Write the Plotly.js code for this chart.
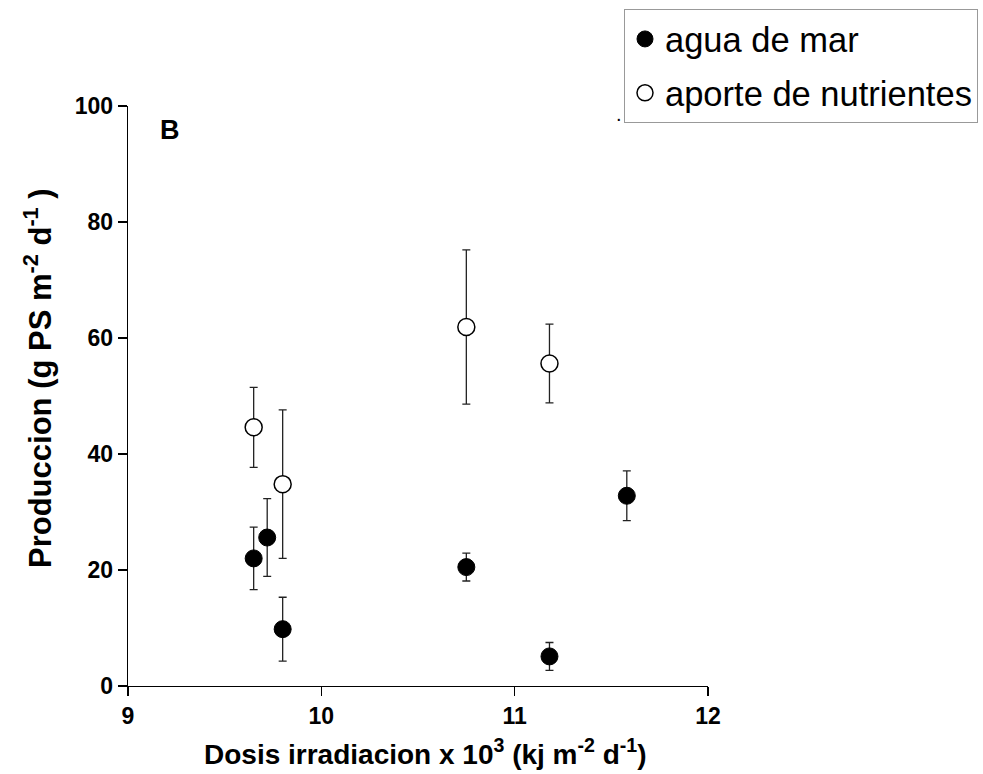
<!DOCTYPE html>
<html>
<head>
<meta charset="utf-8">
<script src="https://cdn.plot.ly/plotly-3.0.1.min.js"></script>
<style>
  html, body { margin: 0; padding: 0; background: #fff; }
  #chart { width: 983px; height: 774px; }
</style>
</head>
<body>
<div id="chart"></div>
<script>
// Irradiation dose (x 10^3 kJ m^-2 d^-1)
const aguaX = [9.65, 9.72, 9.80, 10.75, 11.18, 11.58];
const aguaY = [22.0, 25.6, 9.8, 20.5, 5.1, 32.8];
const aguaErr = [5.4, 6.7, 5.5, 2.4, 2.4, 4.3];

const aporteX = [9.65, 9.80, 10.75, 11.18];
const aporteY = [44.6, 34.8, 61.9, 55.6];
const aporteErr = [6.9, 12.8, 13.3, 6.8];

const xTicks = [9, 10, 11, 12];
const yTicks = [0, 20, 40, 60, 80, 100];

const xTitle = 'Dosis irradiacion x 10<sup>3</sup> (kj m<sup>-2</sup> d<sup>-1</sup>)';
const yTitle = 'Produccion (g PS m<sup>-2</sup> d<sup>-1</sup> )';

const FONT = 'Liberation Sans, Arial, sans-serif';

// plot area in pixels: left 128, right 708, top 106, bottom 686
const PLOT_L = 128, PLOT_T = 106, PLOT_W = 580, PLOT_H = 580;
const px = (x) => (x - PLOT_L) / PLOT_W;
const py = (y) => (PLOT_T + PLOT_H - y) / PLOT_H;

const errStyle = { type: 'data', visible: true, color: '#222', thickness: 1.3, width: 4 };

const traces = [
  {
    name: 'agua de mar',
    legendgroup: 'agua',
    x: aguaX, y: aguaY,
    mode: 'markers', type: 'scatter',
    error_y: Object.assign({ array: aguaErr }, errStyle),
    marker: { symbol: 'circle', size: 17, color: '#000', line: { color: '#000', width: 1 } }
  },
  {
    name: 'aporte de nutrientes',
    legendgroup: 'aporte',
    x: aporteX, y: aporteY,
    mode: 'markers', type: 'scatter',
    error_y: Object.assign({ array: aporteErr }, errStyle),
    marker: { symbol: 'circle', size: 17, color: '#fff', line: { color: '#000', width: 1.5 } }
  }
];

const axisCommon = {
  showgrid: false, zeroline: false,
  showline: true, linecolor: '#000', linewidth: 1.3,
  ticks: 'outside', ticklen: 9, tickwidth: 1.3, tickcolor: '#000',
  tickfont: { family: FONT, size: 23, color: '#000', weight: 'bold' }
};

const layout = {
  width: 983, height: 774,
  margin: { l: PLOT_L, r: 983 - PLOT_L - PLOT_W, t: PLOT_T, b: 774 - PLOT_T - PLOT_H, autoexpand: false },
  paper_bgcolor: '#fff', plot_bgcolor: '#fff',
  showlegend: true,
  legend: {
    x: px(624), y: py(9), xanchor: 'left', yanchor: 'top',
    bordercolor: '#999', borderwidth: 1, bgcolor: '#fff',
    font: { family: FONT, size: 34.5, color: '#000' },
    traceorder: 'grouped', tracegroupgap: 6,
    itemsizing: 'trace', itemwidth: 30
  },
  xaxis: Object.assign({}, axisCommon, {
    range: [9, 12], tickvals: xTicks, ticktext: xTicks.map(String)
  }),
  yaxis: Object.assign({}, axisCommon, {
    range: [0, 100], tickvals: yTicks, ticktext: yTicks.map(String)
  }),
  annotations: [
    {
      text: xTitle, xref: 'paper', yref: 'paper', x: px(425), y: py(752),
      xanchor: 'center', yanchor: 'middle', showarrow: false,
      font: { family: FONT, size: 28, color: '#000', weight: 'bold' }
    },
    {
      text: yTitle, xref: 'paper', yref: 'paper', x: px(38), y: py(378),
      xanchor: 'center', yanchor: 'middle', showarrow: false, textangle: -90,
      font: { family: FONT, size: 31, color: '#000', weight: 'bold' }
    },
    {
      text: 'B', xref: 'paper', yref: 'paper', x: px(170), y: py(130),
      xanchor: 'center', yanchor: 'middle', showarrow: false,
      font: { family: FONT, size: 27, color: '#000', weight: 'bold' }
    },
    {
      text: '.', xref: 'paper', yref: 'paper', x: px(619), y: py(114),
      xanchor: 'center', yanchor: 'middle', showarrow: false,
      font: { family: FONT, size: 20, color: '#000' }
    }
  ]
};

Plotly.newPlot('chart', traces, layout, { staticPlot: true, displayModeBar: false });
</script>
</body>
</html>
